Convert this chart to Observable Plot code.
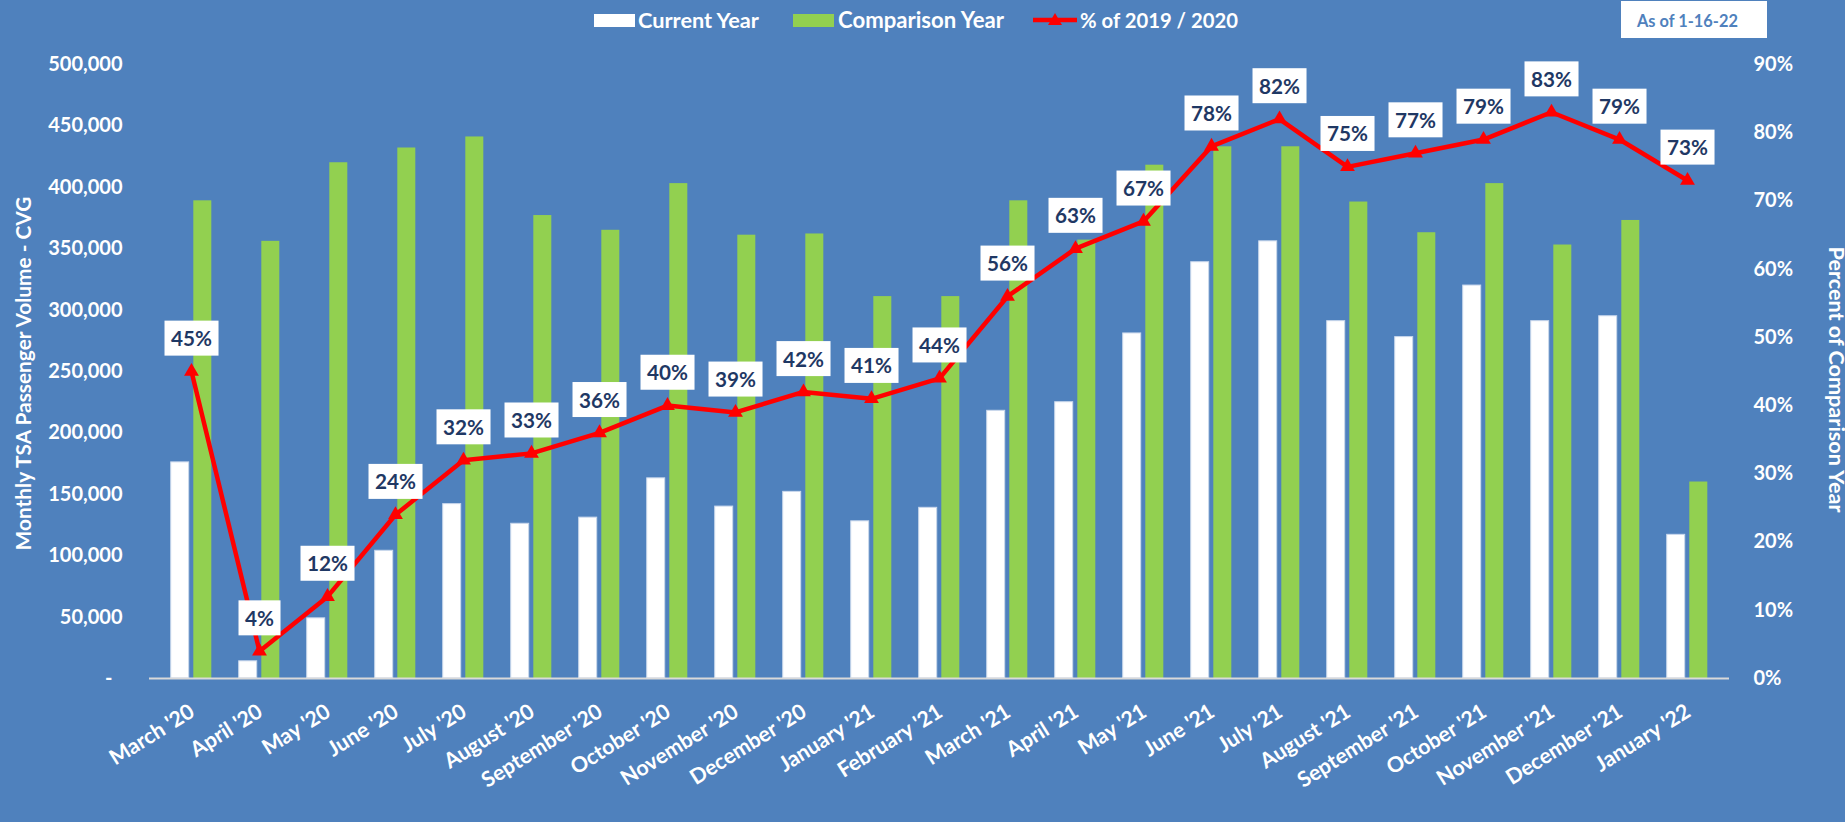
<!DOCTYPE html>
<html>
<head>
<meta charset="utf-8">
<script src="https://cdn.jsdelivr.net/npm/d3@7"></script>
<script src="https://cdn.jsdelivr.net/npm/@observablehq/plot@0.6"></script>
<style>
  html, body { margin: 0; padding: 0; background: #4F81BD; }
  #wrap { position: relative; width: 1845px; height: 822px; overflow: hidden; font-family: Lato, "Open Sans", sans-serif; }
  #chart { position: absolute; left: 0; top: 0; }
  .lg { position: absolute; color: #fff; font-weight: bold; font-size: 21px; line-height: 24px; top: 8px; white-space: nowrap; }
  .sw { position: absolute; top: 14px; width: 41px; height: 13px; }
  #asofbox { position: absolute; left: 1621px; top: 1px; width: 146px; height: 37px; background: #fff; }
  #asof { position: absolute; left: 1637px; top: 9px; color: #4F81BD; font-weight: bold; font-size: 18px; line-height: 24px; white-space: nowrap; }
</style>
</head>
<body>
<div id="wrap">
  <div id="chart"></div>
  <div class="sw" style="left:594px;background:#fff"></div>
  <div class="lg" id="lg1" style="left:638px">Current Year</div>
  <div class="sw" style="left:793px;background:#92D050"></div>
  <div class="lg" id="lg2" style="left:838px">Comparison Year</div>
  <svg style="position:absolute;left:1031px;top:10px" width="48" height="20">
    <line x1="2" y1="10" x2="46" y2="10" stroke="#FF0000" stroke-width="4.5"/>
    <path d="M24,3 L31,15 L17,15 Z" fill="#FF0000"/>
  </svg>
  <div class="lg" id="lg3" style="left:1080px">% of 2019 / 2020</div>
  <div id="asofbox"></div>
  <div id="asof">As of 1-16-22</div>
</div>
<script>
const months = ["March '20","April '20","May '20","June '20","July '20","August '20","September '20","October '20","November '20","December '20","January '21","February '21","March '21","April '21","May '21","June '21","July '21","August '21","September '21","October '21","November '21","December '21","January '22"];
const currentYear = [176000, 14000, 49000, 104000, 142000, 126000, 131000, 163000, 140000, 152000, 128000, 139000, 218000, 225000, 281000, 339000, 356000, 291000, 278000, 320000, 291000, 295000, 117000];
const comparisonYear = [389000, 356000, 420000, 432000, 441000, 377000, 365000, 403000, 361000, 362000, 311000, 311000, 389000, 357000, 418000, 433000, 433000, 388000, 363000, 403000, 353000, 373000, 160000];
const pctOfComparison = [45, 4, 12, 24, 32, 33, 36, 40, 39, 42, 41, 44, 56, 63, 67, 78, 82, 75, 77, 79, 83, 79, 73];
const leftTicks = [0, 50000, 100000, 150000, 200000, 250000, 300000, 350000, 400000, 450000, 500000];
const rightTicks = [0, 10, 20, 30, 40, 50, 60, 70, 80, 90];
const leftTitle = "Monthly TSA Passenger Volume - CVG";
const rightTitle = "Percent of Comparison Year";

const Y_MAX = 500000, P_MAX = 90;
const toY = p => p / P_MAX * Y_MAX;
const data = months.map((m, i) => ({month: m, cur: currentYear[i], cmp: comparisonYear[i], pct: pctOfComparison[i]}));
const fmt = d3.format(",");
const FONT = "Lato, 'Open Sans', sans-serif";

const plot = Plot.plot({
  width: 1845, height: 822,
  marginLeft: 149, marginRight: 116, marginTop: 64, marginBottom: 144,
  style: {background: "transparent", fontFamily: FONT, color: "white", overflow: "visible"},
  x: {domain: months, paddingInner: 0.728, paddingOuter: 0.364, label: null, axis: null},
  y: {domain: [0, Y_MAX], label: null},
  marks: [
    Plot.barY(data, {x: "month", y: "cur", fill: "white", dx: -11.3, stroke: "#C9D7EC", strokeWidth: 1}),
    Plot.barY(data, {x: "month", y: "cmp", fill: "#92D050", dx: 11.3}),
    Plot.ruleY([0], {stroke: "#D9D9D9", strokeWidth: 2}),
    Plot.axisY({ticks: leftTicks, tickFormat: d => d === 0 ? "-\u2002" : fmt(d), tickSize: 0, tickPadding: 27,
                fontSize: 20, fontWeight: "bold", label: null}),
    Plot.axisY({anchor: "right", ticks: rightTicks.map(toY), tickFormat: d => Math.round(d / Y_MAX * P_MAX) + "%",
                tickSize: 0, tickPadding: 24, fontSize: 20, fontWeight: "bold", label: null}),
    Plot.text(months, {x: d => d, frameAnchor: "bottom", rotate: -32, textAnchor: "end", lineAnchor: "middle",
                       dx: 1, dy: 31, fill: "white", fontSize: 22, fontWeight: "bold", ariaDescription: "x-labels"}),
    Plot.line(data, {x: "month", y: d => toY(d.pct), stroke: "#FF0000", strokeWidth: 4.5}),
    Plot.dot(data, {x: "month", y: d => toY(d.pct), symbol: "triangle", r: 5.5, fill: "#FF0000"}),
    Plot.text(data, {x: "month", y: d => toY(d.pct), text: d => d.pct + "%", dy: -32, fill: "#1F3864",
                     fontSize: 22, fontWeight: "bold", ariaDescription: "pct-labels"}),
    Plot.text([leftTitle], {frameAnchor: "left", textAnchor: "middle", rotate: -90, dx: -125, dy: 2,
                            fill: "white", fontSize: 24, fontWeight: "bold", ariaDescription: "left-title"}),
    Plot.text([rightTitle], {frameAnchor: "right", textAnchor: "middle", rotate: 90, dx: 106, dy: 8,
                             fill: "white", fontSize: 18, fontWeight: "bold", ariaDescription: "right-title"})
  ]
});
document.getElementById("chart").append(plot);

// size fonts so that text lengths match the reference
function fitSvg(desc, sample, target) {
  const g = plot.querySelector(`g[aria-description="${desc}"]`);
  if (!g) return;
  const texts = [...g.querySelectorAll("text")];
  const ref = texts.find(t => t.textContent === sample) || texts[0];
  const fs = parseFloat(getComputedStyle(ref).fontSize);
  const len = ref.getComputedTextLength();
  if (len > 0) texts.forEach(t => t.setAttribute("font-size", (fs * target / len).toFixed(2)));
}
fitSvg("left-title", leftTitle, 354);
fitSvg("right-title", rightTitle, 266);
fitSvg("x-labels", "November '21", 134);
fitSvg("pct-labels", "83%", 41);

function fitHtml(id, target) {
  const el = document.getElementById(id);
  const fs = parseFloat(getComputedStyle(el).fontSize);
  const w = el.getBoundingClientRect().width;
  if (w > 0) el.style.fontSize = (fs * target / w).toFixed(2) + "px";
}
fitHtml("lg1", 121);
fitHtml("lg2", 166);
fitHtml("lg3", 158);
fitHtml("asof", 101);

// white boxes behind the percentage labels
const lg = plot.querySelector('g[aria-description="pct-labels"]');
if (lg) {
  lg.querySelectorAll("text").forEach(t => {
    const bb = t.getBBox();
    const w = bb.width + 13, h = 35;
    const cx = bb.x + bb.width / 2, cy = bb.y + bb.height / 2;
    const r = document.createElementNS("http://www.w3.org/2000/svg", "rect");
    r.setAttribute("x", cx - w / 2);
    r.setAttribute("y", cy - h / 2);
    r.setAttribute("width", w);
    r.setAttribute("height", h);
    r.setAttribute("fill", "white");
    r.setAttribute("stroke", "none");
    const tr = t.getAttribute("transform");
    if (tr) r.setAttribute("transform", tr);
    lg.insertBefore(r, t);
  });
}
</script>
</body>
</html>
